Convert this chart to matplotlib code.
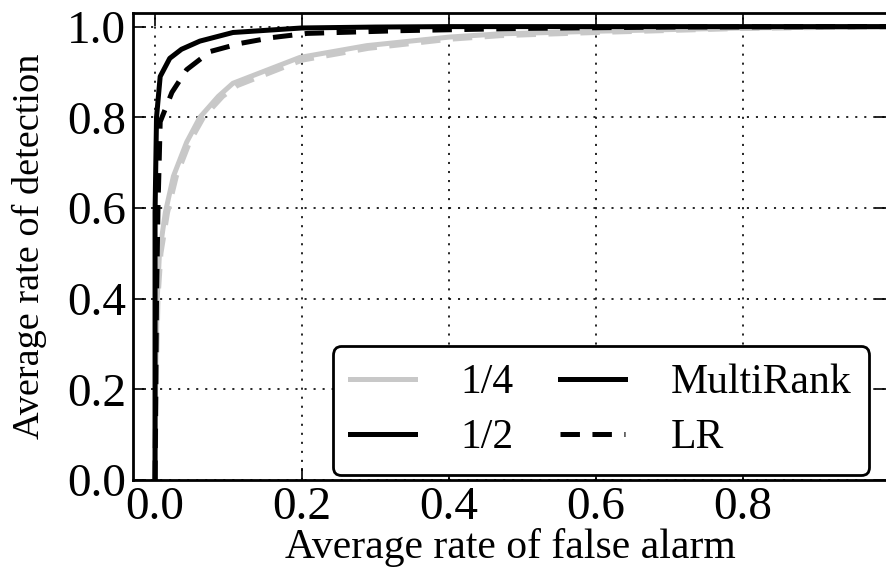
import numpy as np
import matplotlib.pyplot as plt
from matplotlib.lines import Line2D

plt.rcParams['font.family'] = ['Liberation Serif', 'DejaVu Serif']
plt.rcParams['lines.scale_dashes'] = False

# ROC curves (false alarm rate, detection rate)
fa_half_mr = [0.0, 0.0, 0.0, 0.002, 0.007, 0.02, 0.036, 0.061, 0.106, 0.2, 0.3, 0.4, 0.6, 1.0]
det_half_mr = [0.0, 0.3, 0.59, 0.80, 0.89, 0.93, 0.95, 0.968, 0.987, 0.997, 0.999, 1.0, 1.0, 1.0]

fa_half_lr = [0.0, 0.002, 0.004, 0.007, 0.023, 0.043, 0.075, 0.116, 0.16, 0.207, 0.333, 0.5, 0.7, 1.0]
det_half_lr = [0.0, 0.4, 0.6, 0.79, 0.855, 0.905, 0.945, 0.963, 0.976, 0.985, 0.991, 0.996, 0.999, 1.0]

fa_quarter_mr = [0.0, 0.001, 0.003, 0.006, 0.014, 0.025, 0.043, 0.061, 0.086, 0.106, 0.197, 0.288, 0.401, 0.469, 0.605, 0.8, 1.0]
det_quarter_mr = [0.0, 0.25, 0.40, 0.50, 0.59, 0.67, 0.745, 0.80, 0.846, 0.875, 0.932, 0.958, 0.977, 0.984, 0.99, 0.997, 1.0]

fa_quarter_lr = [0.0, 0.002, 0.004, 0.008, 0.017, 0.029, 0.047, 0.066, 0.092, 0.112, 0.2, 0.29, 0.4, 0.47, 0.6, 0.8, 1.0]
det_quarter_lr = [0.0, 0.25, 0.40, 0.50, 0.59, 0.67, 0.745, 0.80, 0.846, 0.87, 0.926, 0.952, 0.972, 0.98, 0.987, 0.996, 1.0]

xticks = [0.0, 0.2, 0.4, 0.6, 0.8]
yticks = [0.0, 0.2, 0.4, 0.6, 0.8, 1.0]

gray = '#c8c8c8'
lw = 3.6
dash = (0, (14, 9))

fig = plt.figure(figsize=(8.87, 5.78), dpi=100)
ax = fig.add_axes([133/887, 98/578, 754/887, 467/578])

ax.plot(fa_quarter_mr, det_quarter_mr, color=gray, lw=lw)
ax.plot(fa_quarter_lr, det_quarter_lr, color=gray, lw=lw, linestyle=dash)
ax.plot(fa_half_lr, det_half_lr, color='black', lw=lw, linestyle=dash)
ax.plot(fa_half_mr, det_half_mr, color='black', lw=lw)

ax.set_xlim(-0.03, 0.996)
ax.set_ylim(0, 1.03)
ax.set_xticks(xticks)
ax.set_yticks(yticks)
ax.set_xticklabels(['%.1f' % v for v in xticks])
ax.set_yticklabels(['%.1f' % v for v in yticks])
ax.tick_params(direction='in', length=9, width=1.2, top=True, right=True, labelsize=34, pad=5)
ax.grid(True, color='black', linestyle=(0, (1.5, 5)), linewidth=1.2)
for s in ax.spines.values():
    s.set_linewidth(2)

ax.set_xlabel('Average rate of false alarm', fontsize=30, labelpad=-1)
ax.set_ylabel('Average rate of detection', fontsize=27.5, labelpad=14)

handles = [Line2D([], [], color=gray, lw=lw),
           Line2D([], [], color='black', lw=lw),
           Line2D([], [], color='black', lw=lw),
           Line2D([], [], color='black', lw=lw, linestyle=dash)]
labels = ['1/4', '1/2', 'MultiRank', 'LR']
leg = ax.legend(handles, labels, ncol=2, loc='lower right', fontsize=30,
                bbox_to_anchor=(0.976, 0.011), borderaxespad=0,
                handlelength=1.56, handletextpad=1.1, columnspacing=1.1,
                labelspacing=0.4, borderpad=0.42, fancybox=True)
leg.get_frame().set_edgecolor('black')
leg.get_frame().set_linewidth(2)
leg.get_frame().set_alpha(1)

fig.savefig('out.png', dpi=100)
